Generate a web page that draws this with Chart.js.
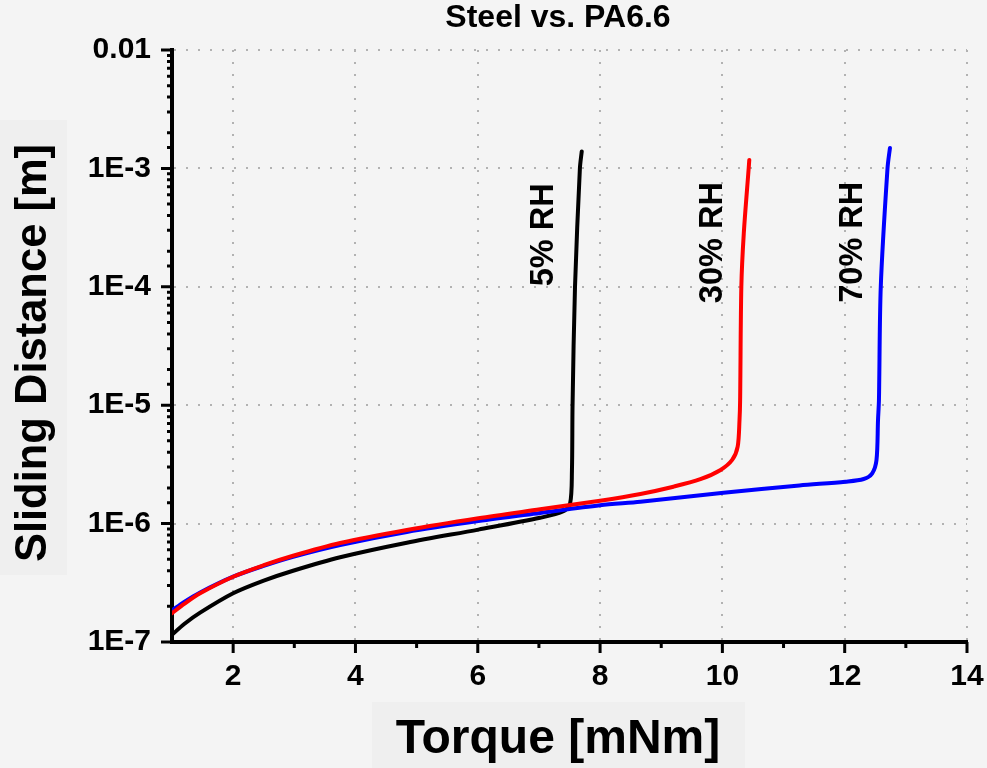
<!DOCTYPE html>
<html>
<head>
<meta charset="utf-8">
<script src="https://cdn.jsdelivr.net/npm/chart.js@4/dist/chart.umd.min.js"></script>
<style>
  html, body { margin: 0; padding: 0; background: #f4f4f4; }
  #wrap { width: 987px; height: 768px; }
</style>
</head>
<body>
<div id="wrap"><canvas id="chart" width="987" height="768"></canvas></div>
<script>
// values (torque in mNm, sliding distance in m)
const torque5  = [1, 1.2, 1.46, 2, 2.5, 2.98, 3.75, 4.84, 6.01, 7.02, 7.40, 7.51, 7.54, 7.55, 7.59, 7.67, 7.70];
const dist5    = [1.15e-7, 1.42e-7, 1.77e-7, 2.58e-7, 3.3e-7, 4.0e-7, 5.2e-7, 6.9e-7, 8.9e-7, 1.12e-6, 1.27e-6, 1.48e-6, 2.8e-6, 1e-5, 1e-4, 1e-3, 1.39e-3];

const torque30 = [1, 1.2, 1.46, 2, 2.5, 2.98, 3.75, 4.84, 6.01, 7.02, 8.0, 8.66, 9.2, 9.64, 9.97, 10.16, 10.25, 10.28, 10.29, 10.31, 10.35, 10.43, 10.44];
const dist30   = [1.75e-7, 2.1e-7, 2.58e-7, 3.56e-7, 4.45e-7, 5.35e-7, 6.85e-7, 8.83e-7, 1.11e-6, 1.32e-6, 1.56e-6, 1.78e-6, 2.05e-6, 2.37e-6, 2.84e-6, 3.45e-6, 4.47e-6, 7.5e-6, 1.1e-5, 1e-4, 2.83e-4, 1e-3, 1.18e-3];

const torque70 = [1, 1.2, 1.46, 2, 2.5, 2.98, 3.75, 4.84, 6.01, 7.02, 8.0, 8.66, 10.02, 11.26, 12.01, 12.31, 12.45, 12.52, 12.545, 12.56, 12.59, 12.70, 12.74];
const dist70   = [1.85e-7, 2.18e-7, 2.62e-7, 3.56e-7, 4.4e-7, 5.25e-7, 6.6e-7, 8.5e-7, 1.05e-6, 1.23e-6, 1.43e-6, 1.53e-6, 1.82e-6, 2.1e-6, 2.26e-6, 2.38e-6, 2.66e-6, 3.44e-6, 7.5e-6, 1.1e-5, 1e-4, 1e-3, 1.49e-3];

const yDecades = [1e-7, 1e-6, 1e-5, 1e-4, 1e-3, 1e-2];
const yLabels  = ['1E-7', '1E-6', '1E-5', '1E-4', '1E-3', '0.01'];
const xLabelled = [2, 4, 6, 8, 10, 12, 14];

// curve labels: [text, torque, distance]
const curveLabels = [
  ['5% RH', 7.09, 2.75e-4],
  ['30% RH', 9.85, 2.36e-4],
  ['70% RH', 12.14, 2.38e-4],
];

const FONT = "'Liberation Sans', Arial, sans-serif";
const GRID = '#b2b2b2';

const toPts = (xs, ys) => xs.map((x, i) => ({ x, y: ys[i] }));
const decadeIdx = v => yDecades.findIndex(d => Math.abs(v - d) / d < 1e-6);

// tick marks, titles and curve labels
const decor = {
  id: 'decor',
  beforeDraw(chart) {
    const { ctx, width, height } = chart;
    ctx.save();
    ctx.fillStyle = '#f4f4f4';
    ctx.fillRect(0, 0, width, height);
    ctx.fillStyle = '#efefef';
    ctx.fillRect(0, 120, 67, 455);
    ctx.fillRect(372, 702, 373, 66);
    ctx.restore();
  },
  afterDraw(chart) {
    const { ctx, chartArea: a, scales: { x, y } } = chart;
    ctx.save();
    ctx.strokeStyle = '#000';
    ctx.lineWidth = 3;
    ctx.beginPath();
    for (let v = 2; v <= 14; v++) {
      const px = x.getPixelForValue(v);
      ctx.moveTo(px, a.bottom);
      ctx.lineTo(px, a.bottom + (v % 2 === 0 ? 11 : 6));
    }
    y.ticks.forEach(t => {
      const py = y.getPixelForValue(t.value);
      ctx.moveTo(a.left - (decadeIdx(t.value) >= 0 ? 11 : 5), py);
      ctx.lineTo(a.left, py);
    });
    ctx.stroke();

    ctx.fillStyle = '#000';
    ctx.textAlign = 'center';
    ctx.textBaseline = 'middle';
    ctx.font = `bold 32px ${FONT}`;
    ctx.fillText('Steel vs. PA6.6', 558, 18);
    ctx.font = `bold 48px ${FONT}`;
    ctx.fillText('Torque [mNm]', 558, 740);

    ctx.save();
    ctx.translate(34, 353);
    ctx.rotate(-Math.PI / 2);
    ctx.font = `bold 43.5px ${FONT}`;
    ctx.fillText('Sliding Distance [m]', 0, 0);
    ctx.restore();

    ctx.font = `bold 32.5px ${FONT}`;
    curveLabels.forEach(([txt, tx, ty]) => {
      ctx.save();
      ctx.translate(x.getPixelForValue(tx), y.getPixelForValue(ty));
      ctx.rotate(-Math.PI / 2);
      ctx.fillText(txt, 0, 0);
      ctx.restore();
    });
    ctx.restore();
  }
};

const lineStyle = { pointRadius: 0, borderWidth: 4, fill: false, tension: 0.3, borderCapStyle: 'round', borderJoinStyle: 'round' };

new Chart(document.getElementById('chart'), {
  type: 'line',
  data: {
    datasets: [
      { label: '30% RH', data: toPts(torque30, dist30), borderColor: '#ff0000', ...lineStyle },
      { label: '70% RH', data: toPts(torque70, dist70), borderColor: '#0000ff', ...lineStyle },
      { label: '5% RH',  data: toPts(torque5, dist5),   borderColor: '#000000', ...lineStyle },
    ],
  },
  options: {
    responsive: false,
    animation: false,
    layout: { padding: { top: 50, right: 20, left: 0, bottom: 0 } },
    plugins: { legend: { display: false }, title: { display: false }, tooltip: { enabled: false } },
    scales: {
      x: {
        type: 'linear', min: 1, max: 14,
        afterFit: s => { s.height = 126; s.paddingLeft = 0; s.paddingRight = 0; },
        ticks: {
          stepSize: 1, autoSkip: false, maxRotation: 0, padding: 17, color: '#000',
          font: { family: FONT, size: 30, weight: 'bold' },
          callback: v => xLabelled.includes(v) ? String(v) : '',
        },
        grid: {
          drawTicks: false, lineWidth: 2,
          color: ctx => ctx.tick && xLabelled.includes(ctx.tick.value) ? GRID : 'rgba(0,0,0,0)',
        },
        border: { color: '#000', width: 4, dash: [2, 10] },
      },
      y: {
        type: 'logarithmic', min: 1e-7, max: 1e-2,
        afterFit: s => { s.width = 172; s.paddingTop = 0; s.paddingBottom = 0; },
        ticks: {
          autoSkip: false, padding: 21, color: '#000',
          font: { family: FONT, size: 30, weight: 'bold' },
          callback: v => { const i = decadeIdx(v); return i >= 0 ? yLabels[i] : ''; },
        },
        grid: {
          drawTicks: false, lineWidth: 2,
          color: ctx => ctx.tick && decadeIdx(ctx.tick.value) > 0 ? GRID : 'rgba(0,0,0,0)',
        },
        border: { color: '#000', width: 4, dash: [2, 10] },
      },
    },
  },
  plugins: [decor],
});
</script>
</body>
</html>
